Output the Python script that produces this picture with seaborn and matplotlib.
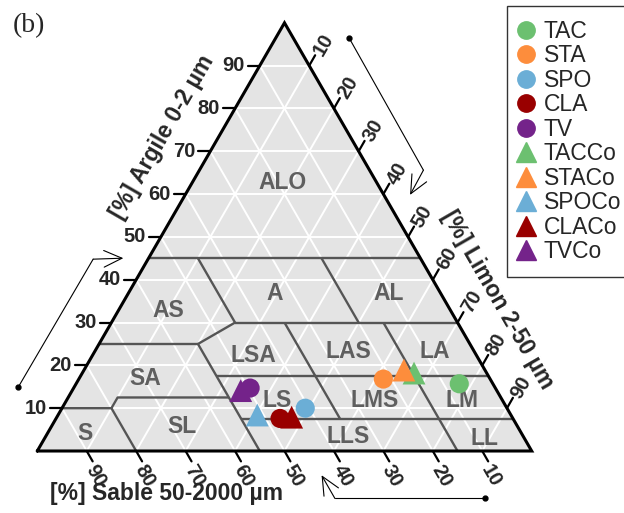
import numpy as np
import pandas as pd
import matplotlib
matplotlib.use("Agg")
import matplotlib.pyplot as plt
from matplotlib.lines import Line2D
import seaborn as sns

# ============================
# DATA
# ============================
# samples : % sable (sand) and % argile (clay), limon (silt) = rest
samples = ["TAC", "STA", "SPO", "CLA", "TV", "TACCo", "STACo", "SPOCo", "CLACo", "TVCo"]
sample_sand = [6.8, 21.6, 40.8, 47.1, 49.6, 14.7, 16.4, 51.3, 44.6, 51.8]
sample_clay = [15.7, 16.8, 10.0, 7.6, 14.7, 18.2, 18.9, 8.4, 7.9, 14.1]
sample_colors = ["#6cc070", "#fd8d3c", "#6baed6", "#990000", "#74238a",
                 "#6cc070", "#fd8d3c", "#6baed6", "#990000", "#74238a"]
sample_markers = ["o", "o", "o", "o", "o", "^", "^", "^", "^", "^"]

# texture classes (GEPPA) : label positions
class_names = ["ALO", "A", "AL", "AS", "LSA", "LAS", "LA", "SA",
               "LS", "LMS", "LM", "S", "SL", "LLS", "LL"]
class_sand = [19, 33.5, 10.6, 57, 45, 25.5, 8, 69.7, 45.6, 25.8, 8.2, 88.3, 67.9, 35.5, 8]
class_clay = [62.6, 36.8, 36.8, 32.9, 22.4, 23.2, 23.2, 17, 11.9, 11.9, 11.9, 4.1, 5.7, 3.3, 3.0]

# class boundaries as polylines of (sand, clay)
boundaries = [
    [(55, 45), (0, 45)],
    [(45, 45), (45, 30), (55, 25), (55, 0)],
    [(45, 30), (0, 30)],
    [(75, 25), (55, 25)],
    [(20, 45), (20, 30)],
    [(35, 30), (35, 7.5)],
    [(15, 30), (15, 0)],
    [(55, 17.5), (0, 17.5)],
    [(55, 12.5), (77.5, 12.5), (80, 10), (90, 10)],
    [(80, 10), (80, 0)],
    [(55, 7.5), (0, 7.5)],
]

ticks = [10, 20, 30, 40, 50, 60, 70, 80, 90]

H = np.sqrt(3) / 2


def to_xy(sand, clay):
    sand = np.asarray(sand, dtype=float)
    clay = np.asarray(clay, dtype=float)
    silt = 100 - sand - clay
    return silt + clay / 2, clay * H


# ============================
# FIGURE
# ============================
sns.set_style("white")
plt.rcParams["font.family"] = ["Liberation Sans", "DejaVu Sans"]

fig = plt.figure(figsize=(6.24, 5.13), dpi=100)
ax = fig.add_axes([0, 0, 1, 1])

# background triangle
ax.fill([0, 100, 50], [0, 0, 100 * H], color="#e4e4e4", zorder=0, lw=0)

# white grid
for k in ticks:
    x, y = to_xy([100 - k, 0], [k, k])          # constant clay
    ax.plot(x, y, color="white", lw=1.4, zorder=1)
    x, y = to_xy([k, k], [0, 100 - k])          # constant sand
    ax.plot(x, y, color="white", lw=1.4, zorder=1)
    x, y = to_xy([100 - k, 0], [0, 100 - k])    # constant silt
    ax.plot(x, y, color="white", lw=1.4, zorder=1)

# class boundaries
for line in boundaries:
    s, c = zip(*line)
    x, y = to_xy(s, c)
    ax.plot(x, y, color="#555555", lw=1.7, zorder=2, solid_capstyle="butt")

# triangle edges
ax.plot([0, 100, 50, 0], [0, 0, 100 * H, 0], color="black", lw=2.2, zorder=3,
        solid_joinstyle="miter")

# class labels
cx, cy = to_xy(class_sand, class_clay)
for name, x, y in zip(class_names, cx, cy):
    ax.text(x, y, name, ha="center", va="center", fontsize=16.5, fontweight="bold",
            color="#5f5f5f", zorder=4)

# ticks
tick_font = dict(fontsize=14.5, fontweight="bold",
                 family=["Liberation Sans Narrow", "Liberation Sans"])
for k in ticks:
    # clay (left)
    bx, by = k / 2, k * H
    ax.plot([bx - 2.4, bx], [by, by], color="black", lw=1.6, zorder=3)
    ax.text(bx - 3.0, by, str(k), ha="right", va="center", **tick_font)
    # sand (bottom)
    bx, by = 100 - k, 0
    ax.plot([bx, bx + 1.2], [by, by - 2.1], color="black", lw=1.6, zorder=3)
    ax.text(bx + 1.8, by - 5.0, str(k), ha="center", va="center", rotation=-60, **tick_font)
    # silt (right)
    bx, by = 50 + k / 2, (100 - k) * H
    ax.plot([bx, bx + 1.2], [by, by + 2.1], color="black", lw=1.6, zorder=3)
    ax.text(bx + 2.9, by + 4.2, str(k), ha="center", va="center", rotation=60, **tick_font)

# axis titles
title_font = dict(fontsize=16.5, fontweight="bold", ha="center", va="center")
ax.text(25.2, 63.5, "[%] Argile 0-2 µm", rotation=60, **title_font)
ax.text(93.0, 30.5, "[%] Limon 2-50 µm", rotation=-60, **title_font)
ax.text(26.2, -8.6, "[%] Sable 50-2000 µm", **title_font)

# direction arrows
arrow_style = dict(arrowstyle="->,head_length=1.3,head_width=0.6", lw=0.8,
                   color="black", shrinkA=0, shrinkB=0)
for path in [[(-3.8, 13.0), (11.3, 38.8), (17.4, 39.0)],
             [(63.1, 83.5), (78.1, 56.8), (75.4, 51.8)],
             [(90.6, -9.6), (60.2, -9.6), (57.5, -4.9)]]:
    px, py = zip(*path)
    ax.plot(px[:-1], py[:-1], color="black", lw=0.8, zorder=3)
    ax.plot(px[0], py[0], "o", color="black", ms=3.5, zorder=3)
    ax.annotate("", xy=path[-1], xytext=path[-2], arrowprops=arrow_style)

# samples
sx, sy = to_xy(sample_sand, sample_clay)
df = pd.DataFrame({"x": sx, "y": sy, "sample": samples, "marker": sample_markers})
palette = dict(zip(samples, sample_colors))
circles = df[df["marker"] == "o"]
triangles = df[df["marker"] == "^"]
sns.scatterplot(data=circles, x="x", y="y", hue="sample", palette=palette, marker="o",
                s=190, linewidth=0, legend=False, ax=ax, zorder=5)
sns.scatterplot(data=triangles, x="x", y="y", hue="sample", palette=palette, marker="^",
                s=270, linewidth=0, legend=False, ax=ax, zorder=5)
ax.set_xlim(-7.54, 118.67)
ax.set_ylim(-12.54, 91.22)
ax.axis("off")

handles = [Line2D([], [], linestyle="none", marker=m, color=c,
                  markersize=12.5 if m == "o" else 15)
           for m, c in zip(sample_markers, sample_colors)]
leg = ax.legend(handles, samples, loc="upper left", bbox_to_anchor=(0.8125, 0.988),
                borderaxespad=0, fontsize=16.5, frameon=True, fancybox=False,
                labelspacing=0.065, handlelength=0.5, handletextpad=0.5, borderpad=0.6)
leg.get_frame().set_edgecolor("black")
leg.get_frame().set_linewidth(1.0)

# panel letter
fig.text(0.02, 0.95, "(b)", fontsize=20, family=["Liberation Serif", "DejaVu Serif"],
         ha="left", va="center")

fig.savefig("out.png", dpi=100)
